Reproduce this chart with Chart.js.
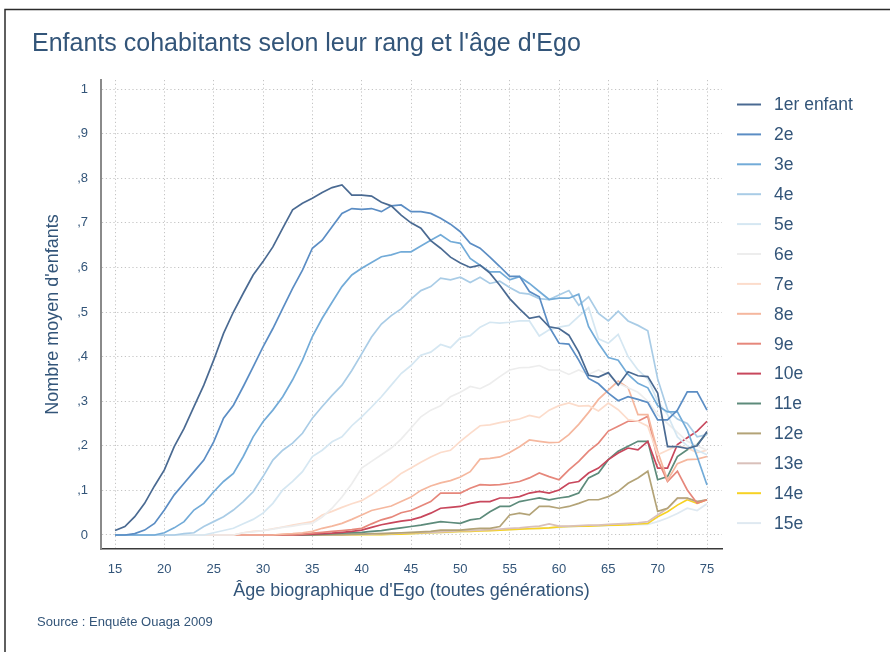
<!DOCTYPE html>
<html>
<head>
<meta charset="utf-8">
<script src="https://cdn.jsdelivr.net/npm/chart.js@4.4.1/dist/chart.umd.min.js"></script>
<style>
  html, body { margin: 0; padding: 0; background: #ffffff; }
  #wrap { position: absolute; left: 0; top: 0; width: 890px; height: 652px; }
</style>
</head>
<body>
<div id="wrap"><canvas id="c" width="890" height="652"></canvas></div>
<script>
// ---------- DATA ----------
const ages = [15,16,17,18,19,20,21,22,23,24,25,26,27,28,29,30,31,32,33,34,35,36,37,38,39,40,41,42,43,44,45,46,47,48,49,50,51,52,53,54,55,56,57,58,59,60,61,62,63,64,65,66,67,68,69,70,71,72,73,74,75];
const xTickValues = [15,20,25,30,35,40,45,50,55,60,65,70,75];
const yTickValues = [0,0.1,0.2,0.3,0.4,0.5,0.6,0.7,0.8,0.9,1];
const yTickLabels = ['0',',1',',2',',3',',4',',5',',6',',7',',8',',9','1'];
const seriesNames = ['1er enfant','2e','3e','4e','5e','6e','7e','8e','9e','10e','11e','12e','13e','14e','15e'];

const rang1 = [0.010,0.019,0.041,0.071,0.110,0.146,0.198,0.239,0.288,0.336,
  0.392,0.452,0.500,0.542,0.583,0.613,0.646,0.688,0.729,0.744,
  0.755,0.768,0.779,0.785,0.762,0.762,0.760,0.746,0.738,0.717,
  0.700,0.688,0.660,0.643,0.623,0.610,0.600,0.605,0.587,0.560,
  0.530,0.507,0.486,0.490,0.467,0.463,0.448,0.410,0.358,0.354,
  0.364,0.336,0.366,0.357,0.355,0.318,0.198,0.198,0.194,0.200,
  0.232];
const rang2 = [0,0,0.003,0.011,0.026,0.056,0.090,0.116,0.142,0.168,
  0.209,0.262,0.291,0.333,0.377,0.422,0.463,0.508,0.553,0.594,
  0.643,0.661,0.691,0.721,0.732,0.730,0.732,0.725,0.738,0.740,
  0.725,0.725,0.721,0.710,0.697,0.680,0.654,0.643,0.623,0.602,
  0.580,0.580,0.546,0.534,0.467,0.430,0.428,0.392,0.351,0.339,
  0.318,0.301,0.310,0.304,0.297,0.258,0.258,0.280,0.321,0.321,
  0.280];
const rang3 = [0,0,0,0,0,0.005,0.016,0.030,0.056,0.071,
  0.097,0.120,0.138,0.176,0.220,0.254,0.280,0.310,0.348,0.392,
  0.445,0.486,0.522,0.557,0.583,0.598,0.611,0.624,0.628,0.635,
  0.635,0.648,0.661,0.673,0.658,0.654,0.620,0.605,0.590,0.590,
  0.572,0.579,0.564,0.546,0.528,0.531,0.531,0.540,0.467,0.430,
  0.398,0.392,0.360,0.340,0.330,0.290,0.276,0.276,0.235,0.176,
  0.112];
const rang4 = [0,0,0,0,0,0,0,0.003,0.005,0.019,
  0.030,0.041,0.056,0.075,0.097,0.131,0.168,0.190,0.206,0.228,
  0.262,0.288,0.313,0.336,0.369,0.406,0.444,0.473,0.492,0.507,
  0.529,0.548,0.557,0.576,0.572,0.578,0.566,0.578,0.564,0.569,
  0.555,0.543,0.540,0.530,0.528,0.538,0.548,0.515,0.534,0.497,
  0.480,0.502,0.480,0.470,0.458,0.350,0.280,0.260,0.250,0.220,
  0.225];
const rang5 = [0,0,0,0,0,0,0,0,0,0,
  0.005,0.010,0.015,0.025,0.035,0.049,0.071,0.101,0.120,0.142,
  0.176,0.190,0.209,0.220,0.245,0.265,0.287,0.310,0.336,0.362,
  0.380,0.403,0.410,0.427,0.420,0.442,0.447,0.466,0.477,0.475,
  0.477,0.480,0.480,0.446,0.460,0.466,0.470,0.490,0.510,0.440,
  0.430,0.450,0.400,0.370,0.350,0.300,0.270,0.220,0.200,0.190,
  0.180];
const rang6 = [0,0,0,0,0,0,0,0,0,0,
  0,0,0,0.005,0.007,0.010,0.013,0.017,0.020,0.024,
  0.026,0.040,0.060,0.085,0.115,0.150,0.165,0.180,0.195,0.215,
  0.240,0.265,0.280,0.290,0.310,0.320,0.333,0.328,0.339,0.355,
  0.370,0.375,0.376,0.380,0.370,0.370,0.360,0.370,0.360,0.370,
  0.360,0.340,0.330,0.320,0.300,0.270,0.250,0.230,0.210,0.200,
  0.190];
const rang7 = [0,0,0,0,0,0,0,0,0,0,
  0,0,0,0.005,0.008,0.010,0.014,0.018,0.022,0.026,
  0.030,0.045,0.053,0.062,0.070,0.077,0.090,0.105,0.120,0.138,
  0.150,0.163,0.175,0.185,0.190,0.210,0.228,0.245,0.247,0.252,
  0.256,0.260,0.268,0.263,0.280,0.290,0.296,0.289,0.290,0.278,
  0.296,0.281,0.259,0.255,0.244,0.180,0.190,0.200,0.195,0.185,
  0.190];
const rang8 = [0,0,0,0,0,0,0,0,0,0,
  0,0,0,0,0,0,0,0.002,0.003,0.005,
  0.008,0.015,0.020,0.026,0.035,0.045,0.055,0.060,0.065,0.075,
  0.085,0.100,0.110,0.117,0.122,0.130,0.142,0.170,0.172,0.175,
  0.185,0.198,0.213,0.210,0.207,0.208,0.225,0.248,0.275,0.304,
  0.325,0.345,0.330,0.270,0.270,0.187,0.123,0.160,0.169,0.170,
  0.176];
const rang9 = [0,0,0,0,0,0,0,0,0,0,
  0,0,0,0,0,0,0,0,0,0.002,
  0.004,0.006,0.008,0.010,0.012,0.015,0.025,0.034,0.040,0.050,
  0.055,0.065,0.075,0.094,0.094,0.094,0.105,0.113,0.112,0.113,
  0.116,0.120,0.128,0.139,0.131,0.124,0.146,0.165,0.188,0.206,
  0.233,0.244,0.255,0.255,0.266,0.169,0.120,0.143,0.101,0.071,
  0.079];
const rang10 = [0,0,0,0,0,0,0,0,0,0,
  0,0,0,0,0,0,0,0,0,0.001,
  0.002,0.003,0.004,0.006,0.008,0.011,0.017,0.023,0.027,0.031,
  0.034,0.040,0.049,0.060,0.062,0.064,0.071,0.075,0.075,0.083,
  0.083,0.086,0.094,0.098,0.094,0.101,0.116,0.120,0.139,0.150,
  0.169,0.184,0.195,0.191,0.210,0.150,0.150,0.203,0.218,0.233,
  0.255];
const rang11 = [0,0,0,0,0,0,0,0,0,0,
  0,0,0,0,0,0,0,0,0,0,
  0.001,0.002,0.003,0.004,0.005,0.006,0.008,0.010,0.013,0.016,
  0.019,0.022,0.026,0.030,0.028,0.026,0.034,0.037,0.052,0.064,
  0.064,0.075,0.079,0.083,0.079,0.083,0.086,0.094,0.128,0.139,
  0.169,0.188,0.199,0.210,0.210,0.124,0.131,0.176,0.191,0.203,
  0.229];
const rang12 = [0,0,0,0,0,0,0,0,0,0,
  0,0,0,0,0,0,0,0,0,0,
  0,0,0.001,0.001,0.002,0.002,0.003,0.003,0.004,0.005,
  0.006,0.007,0.008,0.011,0.011,0.011,0.013,0.015,0.015,0.019,
  0.045,0.049,0.045,0.064,0.064,0.060,0.064,0.071,0.079,0.079,
  0.086,0.098,0.116,0.128,0.143,0.053,0.060,0.083,0.083,0.075,
  0.079];
const rang13 = [0,0,0,0,0,0,0,0,0,0,
  0,0,0,0,0,0,0,0,0,0,
  0,0,0,0.001,0.001,0.002,0.002,0.003,0.003,0.004,
  0.005,0.005,0.006,0.007,0.008,0.010,0.010,0.011,0.012,0.013,
  0.015,0.016,0.018,0.020,0.025,0.020,0.020,0.021,0.022,0.022,
  0.024,0.025,0.026,0.027,0.030,0.045,0.060,0.082,0.082,0.075,
  0.079];
const rang14 = [0,0,0,0,0,0,0,0,0,0,
  0,0,0,0,0,0,0,0,0,0,
  0,0,0,0,0,0.001,0.001,0.001,0.002,0.002,
  0.003,0.004,0.005,0.006,0.007,0.008,0.008,0.009,0.010,0.011,
  0.012,0.013,0.014,0.015,0.016,0.018,0.019,0.020,0.020,0.021,
  0.022,0.022,0.023,0.025,0.026,0.041,0.052,0.067,0.079,0.071,
  0.079];
const rang15 = [0,0,0,0,0,0,0,0,0,0,
  0,0,0,0,0,0,0,0,0,0,
  0,0,0,0,0,0,0.001,0.001,0.001,0.002,
  0.002,0.003,0.004,0.005,0.006,0.007,0.008,0.009,0.010,0.011,
  0.012,0.013,0.014,0.015,0.016,0.017,0.018,0.019,0.020,0.020,
  0.021,0.022,0.022,0.023,0.024,0.030,0.038,0.048,0.060,0.055,
  0.070];

// ---------- STYLE ----------
const seriesColors = ['#4a6a92','#5b8dc4','#72abd8','#a9cce6','#d5e7f2','#ededed',
  '#fcdccb','#f5b79e','#e6877b','#c8475c','#5d8b7b','#b3a377','#d9c0ba','#f7d224','#dfe9f1'];
const allSeries = [rang1,rang2,rang3,rang4,rang5,rang6,rang7,rang8,rang9,rang10,rang11,rang12,rang13,rang14,rang15];
const textColor = '#335579';
const FONT = "'Liberation Sans', Arial, Helvetica, sans-serif";

const datasets = allSeries.map((d, i) => ({
  label: seriesNames[i],
  data: d,
  borderColor: seriesColors[i],
  backgroundColor: seriesColors[i],
  borderWidth: 1.7,
  pointRadius: 0,
  tension: 0,
  fill: false
}));

const decorPlugin = {
  id: 'decor',
  beforeDraw(chart) {
    const ctx = chart.ctx;
    ctx.save();
    ctx.fillStyle = '#ffffff';
    ctx.fillRect(0, 0, chart.width, chart.height);
    // frame
    ctx.strokeStyle = '#2b2b2b';
    ctx.lineWidth = 1.5;
    ctx.beginPath();
    ctx.moveTo(5, 652); ctx.lineTo(5, 9.5); ctx.lineTo(890, 9.5);
    ctx.stroke();
    // title
    ctx.fillStyle = textColor;
    ctx.font = "25px " + FONT;
    ctx.textBaseline = 'middle';
    ctx.textAlign = 'left';
    ctx.fillText("Enfants cohabitants selon leur rang et l'âge d'Ego", 32, 44);
    // source
    ctx.font = "13px " + FONT;
    ctx.fillText("Source : Enquête Ouaga 2009", 37, 622);
    ctx.restore();
  },
  afterDraw(chart) {
    const ctx = chart.ctx;
    ctx.save();
    ctx.textBaseline = 'middle';
    ctx.textAlign = 'left';
    ctx.font = "17.5px " + FONT;
    chart.data.datasets.forEach((ds, i) => {
      const y = 104.5 + i * 29.9;
      ctx.strokeStyle = ds.borderColor;
      ctx.lineWidth = 2;
      ctx.beginPath();
      ctx.moveTo(737, y); ctx.lineTo(761, y);
      ctx.stroke();
      ctx.fillStyle = textColor;
      ctx.fillText(ds.label, 774, y + 1);
    });
    ctx.restore();
  }
};

new Chart(document.getElementById('c'), {
  type: 'line',
  data: { labels: ages, datasets: datasets },
  plugins: [decorPlugin],
  options: {
    responsive: false,
    animation: false,
    devicePixelRatio: 1,
    layout: { padding: { left: 30, right: 168, top: 80, bottom: 47 } },
    plugins: { legend: { display: false }, tooltip: { enabled: false }, title: { display: false } },
    scales: {
      x: {
        type: 'linear',
        min: 13.58,
        max: 76.52,
        afterBuildTicks: (scale) => { scale.ticks = xTickValues.map(v => ({ value: v })); },
        afterFit: (scale) => { scale.height = 56; },
        ticks: { color: textColor, font: { size: 13, family: FONT }, padding: 13, maxRotation: 0, autoSkip: false },
        grid: { color: '#c4c4c4', lineWidth: 1, drawTicks: false },
        border: { display: true, color: '#3a3a3a', width: 1.5, dash: [1.2, 2.6] },
        title: { display: true, text: "Âge biographique d'Ego (toutes générations)", color: textColor,
                 font: { size: 18, family: FONT }, padding: { top: 0, bottom: 3 } }
      },
      y: {
        type: 'linear',
        min: -0.0314,
        max: 1.0202,
        afterBuildTicks: (scale) => { scale.ticks = yTickValues.map(v => ({ value: v })); },
        afterFit: (scale) => { scale.width = 71; },
        ticks: { color: textColor, font: { size: 13, family: FONT }, padding: 13,
                 callback: (v, i) => yTickLabels[i] },
        grid: { color: '#c4c4c4', lineWidth: 1, drawTicks: false },
        border: { display: true, color: '#8a8a8a', width: 2, dash: [1.2, 2.6] },
        title: { display: true, text: "Nombre moyen d'enfants", color: textColor,
                 font: { size: 18, family: FONT }, padding: { top: 12, bottom: 0 } }
      }
    }
  }
});
</script>
</body>
</html>
